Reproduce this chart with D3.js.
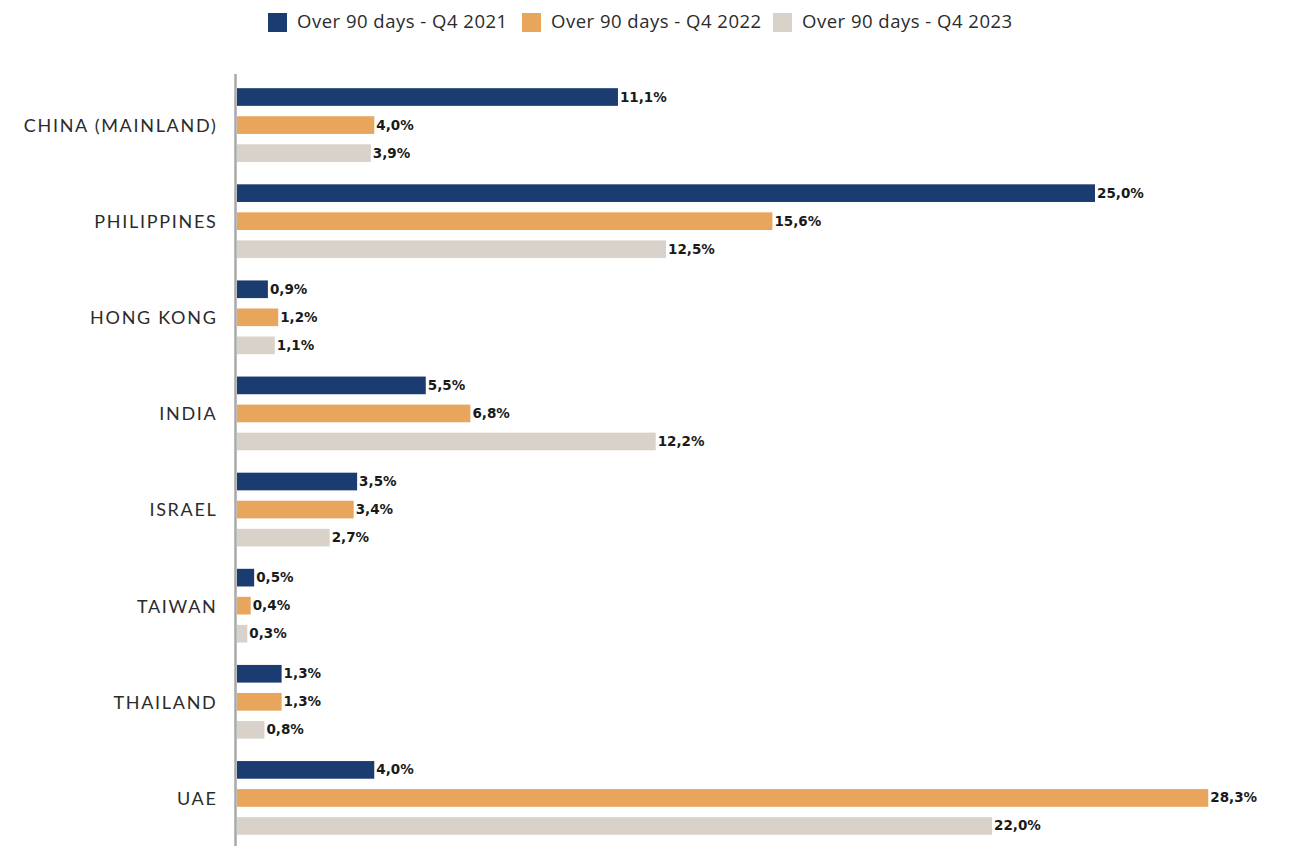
<!DOCTYPE html>
<html>
<head>
<meta charset="utf-8">
<script src="https://cdn.jsdelivr.net/npm/d3@7"></script>
<style>
  html, body { margin: 0; padding: 0; background: #ffffff; }
  svg { display: block; }
</style>
</head>
<body>
<svg id="chart" width="1294" height="846"></svg>
<script>
// Share of receivables over 90 days, by market and quarter
const categories = ["CHINA (MAINLAND)", "PHILIPPINES", "HONG KONG", "INDIA", "ISRAEL", "TAIWAN", "THAILAND", "UAE"];
const seriesNames = ["Over 90 days - Q4 2021", "Over 90 days - Q4 2022", "Over 90 days - Q4 2023"];
const q4_2021 = [11.1, 25.0, 0.9, 5.5, 3.5, 0.5, 1.3, 4.0];
const q4_2022 = [4.0, 15.6, 1.2, 6.8, 3.4, 0.4, 1.3, 28.3];
const q4_2023 = [3.9, 12.5, 1.1, 12.2, 2.7, 0.3, 0.8, 22.0];
const seriesColors = ["#1b3c70", "#e8a55c", "#d9d2ca"];

const seriesValues = [q4_2021, q4_2022, q4_2023];
const rows = categories.map((c, i) => ({
  category: c,
  values: seriesNames.map((s, j) => ({ series: s, value: seriesValues[j][i] }))
}));

const svg = d3.select("#chart");

const x = d3.scaleLinear().domain([0, 25]).range([237, 1095]);
const y0 = d3.scaleBand().domain(categories).range([77, 846]).paddingInner(0).paddingOuter(0);
const y1 = d3.scaleBand().domain(seriesNames).range([6, y0.bandwidth() - 6])
  .paddingInner(0.37).paddingOuter(0.185);
const color = d3.scaleOrdinal().domain(seriesNames).range(seriesColors);
const fmt = v => d3.format(".1f")(v).replace(".", ",") + "%";

// Legend
const legendX = [268, 522, 773];
const legend = svg.append("g");
seriesNames.forEach((s, i) => {
  legend.append("rect")
    .attr("x", legendX[i]).attr("y", 13)
    .attr("width", 19).attr("height", 19)
    .attr("fill", color(s));
  legend.append("text")
    .attr("x", legendX[i] + 29).attr("y", 23)
    .attr("dominant-baseline", "middle")
    .attr("font-family", "'Open Sans', sans-serif")
    .attr("font-size", 18.5)
    .attr("letter-spacing", 0.5)
    .attr("fill", "#2b2b2b")
    .text(s);
});

// Category groups
const groups = svg.append("g").selectAll("g")
  .data(rows).join("g")
  .attr("transform", d => `translate(0,${y0(d.category)})`);

groups.selectAll("rect")
  .data(d => d.values).join("rect")
  .attr("x", x(0))
  .attr("y", d => y1(d.series))
  .attr("width", d => x(d.value) - x(0))
  .attr("height", y1.bandwidth())
  .attr("fill", d => color(d.series));

groups.selectAll("text.val")
  .data(d => d.values).join("text")
  .attr("class", "val")
  .attr("x", d => x(d.value) + 2)
  .attr("y", d => y1(d.series) + y1.bandwidth() / 2 + 0.5)
  .attr("dominant-baseline", "middle")
  .attr("font-family", "Verdana, 'DejaVu Sans', sans-serif")
  .attr("font-weight", "bold")
  .attr("font-size", 13.5)
  .attr("fill", "#1a1a1a")
  .text(d => fmt(d.value));

// Category axis
const yAxis = svg.append("g")
  .attr("transform", `translate(235.5,0)`)
  .call(d3.axisLeft(y0).tickSize(0).tickPadding(18));
yAxis.select(".domain")
  .attr("d", "M0,74V846")
  .attr("stroke", "#a8a8a8")
  .attr("stroke-width", 2.5);
yAxis.selectAll("text")
  .attr("font-family", "Lato, 'Open Sans', sans-serif")
  .attr("font-size", 18)
  .attr("letter-spacing", 1.7)
  .attr("dy", "0.38em")
  .attr("fill", "#2b2b2b");
</script>
</body>
</html>
